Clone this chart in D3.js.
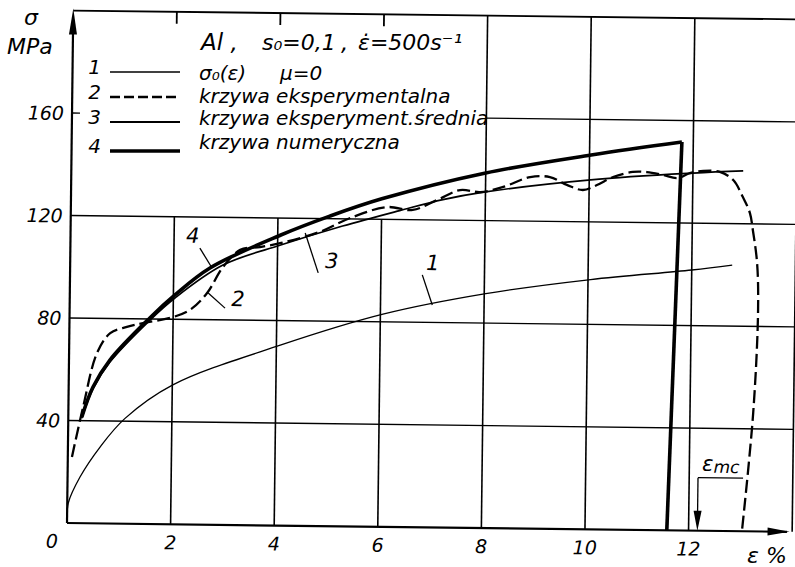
<!DOCTYPE html>
<html>
<head>
<meta charset="utf-8">
<script src="https://cdn.jsdelivr.net/npm/d3@7"></script>
<style>
    body { margin: 0; background: #fff; }
    text { font-family: "DejaVu Sans", sans-serif; font-style: italic; fill: #000; }
</style>
</head>
<body>
<div id="svg-container"></div>
<script>
//==============================
// DATA (eps in %, sigma in MPa)
//==============================
// 1: sigma0(eps), mu = 0
const curve1 = [[0, 0], [0.02, 7.8], [0.24, 18], [0.62, 29.8], [1.09, 41], [2.01, 54.4],
    [4.09, 70.5], [6.05, 83], [8.03, 91.5], [10.05, 97.5], [12.0, 101.7], [12.78, 103.8]];
// 2: krzywa eksperymentalna (dashed)
const curve2 = [[0.08, 25.8], [0.28, 45], [0.54, 66.5], [0.79, 74.3], [1.11, 76.8], [1.42, 78.4],
    [1.94, 80.5], [2.32, 83.7], [2.65, 90.4], [2.95, 100.6], [3.28, 107.4], [3.66, 108.6],
    [4.07, 110.3], [4.81, 114.8], [5.4, 120.4], [6.1, 124.8], [6.6, 123.8], [7.07, 127.8],
    [7.51, 131.8], [7.9, 131.1], [8.34, 133.2], [8.86, 137.2], [9.24, 137.3], [9.57, 134.3],
    [9.88, 132.4], [10.15, 134.4], [10.46, 137.6], [10.84, 139.7], [11.11, 139.7], [11.42, 138.7],
    [11.7, 137.5], [11.94, 139.5], [12.2, 140.4], [12.52, 140.1], [12.78, 137], [12.97, 130.4],
    [13.11, 124.2], [13.17, 117.6], [13.26, 104.7], [13.29, 86.4], [13.22, 46.2], [13.03, 0]];
// 3: krzywa eksperyment. srednia
const curve3 = [[0.26, 41], [0.47, 52.5], [0.79, 63], [1.55, 79.5], [2.03, 88.3], [2.95, 101.4],
    [4.06, 109.5], [5.25, 117.2], [6.35, 123.5], [7.18, 128], [8.0, 131.2], [10.03, 136.4],
    [12.0, 139.5], [12.97, 140.6]];
// 4: krzywa numeryczna (rise, then drop)
const curve4 = [[0.26, 41.4], [0.47, 53.2], [0.79, 63.8], [1.55, 80.4], [2.03, 89.5], [2.70, 100.2],
    [4.06, 113.4], [5.0, 121], [6.0, 128], [8.0, 138.6], [10.03, 146.1], [11.78, 151.6]];
const curve4Drop = [[11.78, 151.6], [11.58, 0]];

// ticks and grid
const xTicks = [2, 4, 6, 8, 10, 12];
const yTicks = [40, 80, 120, 160];
const xGridShort = [2, 4, 6];    // stop under the legend at 120
const xGridFull = [8, 10, 12];
const yGridFull = [40, 80, 120];

// curve labels: [text, label pos, leader from, leader to]
const curveLabels = [
    ["1", [7.0, 103.6], [6.8, 98.5], [7.0, 86.8]],
    ["2", [3.25, 88.6], [2.65, 90.8], [3.0, 84.6]],
    ["3", [5.05, 103.9], [4.53, 114.3], [4.79, 98.8]],
    ["4", [2.36, 113], [2.5, 107.9], [2.74, 100.2]]
];
// eps_mc marker
const epsMc = 12.17, epsMcEnd = 13.04, epsMcLevel = 20.7;

//==============================
// DRAW
//==============================
const width = 795, height = 567;
const svg = d3.select("#svg-container").append("svg")
    .attr("width", width)
    .attr("height", height);

const x = d3.scaleLinear().domain([0, 14]).range([67, 67 + 14 * 51.8]);
const y = d3.scaleLinear().domain([0, 200]).range([523, 523 - 200 * 2.5625]);

// the scan is slightly turned, so is the plot frame
const g = svg.append("g").attr("transform", `rotate(0.7, ${x(0)}, ${y(0)})`);

const seg = (x1, y1, x2, y2, w) => g.append("line")
    .attr("x1", x1).attr("y1", y1).attr("x2", x2).attr("y2", y2)
    .attr("stroke", "#000").attr("stroke-width", w);

// grid
xGridShort.forEach(v => {
    seg(x(v), y(0), x(v), y(120), 1.6);
    seg(x(v), y(200), x(v), y(200) + 12, 1.8);
});
xGridFull.forEach(v => seg(x(v), y(0), x(v), y(200), 1.6));
yGridFull.forEach(v => seg(x(0), y(v), x(14), y(v), 1.4));
seg(x(8), y(160), x(14), y(160), 1.4);
seg(x(0), y(160), x(0) + 8, y(160), 1.4);

// frame
seg(x(0), y(200), x(14), y(200), 1.8);
seg(x(14), y(0), x(14), y(200), 1.6);
seg(x(0), y(0), x(13.9), y(0), 2.2);
seg(x(0), y(0), x(0), y(196), 2.2);

// arrow heads
const tri = (pts) => g.append("path").attr("d", "M" + pts.join("L") + "Z").attr("fill", "#000");
tri([[x(0), y(200) - 2], [x(0) - 4, y(200) + 24], [x(0) + 4, y(200) + 24]]);
tri([[x(13.95), y(0)], [x(13.95) - 22, y(0) - 4], [x(13.95) - 22, y(0) + 4]]);

// tick labels
g.selectAll(".ytick").data(yTicks).join("text")
    .attr("x", x(0) - 8).attr("y", d => y(d) + 7)
    .attr("text-anchor", "end").style("font-size", "19px")
    .text(d => d);
g.selectAll(".xtick").data(xTicks).join("text")
    .attr("x", d => x(d)).attr("y", y(0) + 25)
    .attr("text-anchor", "middle").style("font-size", "19px")
    .text(d => d);
g.append("text").attr("x", x(0) - 15).attr("y", y(0) + 25)
    .attr("text-anchor", "middle").style("font-size", "19px").text("0");

// curves
const smooth = d3.line().x(d => x(d[0])).y(d => y(d[1])).curve(d3.curveCatmullRom.alpha(0.5));
const straight = d3.line().x(d => x(d[0])).y(d => y(d[1]));
const drawCurve = (data, gen, w, dash) => g.append("path")
    .attr("d", gen(data))
    .attr("fill", "none").attr("stroke", "#000")
    .attr("stroke-width", w)
    .attr("stroke-dasharray", dash || null)
    .attr("stroke-linejoin", "round");

drawCurve(curve1, smooth, 1.3);
drawCurve(curve3, smooth, 1.7);
drawCurve(curve2, smooth, 2.3, "13,5");
drawCurve(curve4, smooth, 3.6);
drawCurve(curve4Drop, straight, 3.6);

// curve numbers with leaders
curveLabels.forEach(c => {
    g.append("text").attr("x", x(c[1][0])).attr("y", y(c[1][1]) + 8)
        .attr("text-anchor", "middle").style("font-size", "21px").text(c[0]);
    seg(x(c[2][0]), y(c[2][1]), x(c[3][0]), y(c[3][1]), 1.3);
});

// eps_mc bracket and arrow
seg(x(epsMc), y(epsMcLevel), x(epsMcEnd), y(epsMcLevel), 1.3);
seg(x(epsMc), y(epsMcLevel), x(epsMc), y(0) - 16, 1.3);
tri([[x(epsMc), y(0)], [x(epsMc) - 4, y(0) - 20], [x(epsMc) + 4, y(0) - 20]]);
const mc = g.append("text").attr("x", x(epsMc) + 4).attr("y", y(epsMcLevel) - 7).style("font-size", "21px");
mc.append("tspan").text("ε");
mc.append("tspan").attr("dy", 2).style("font-size", "17px").text("mc");

//==============================
// LEGEND and axis names (page coords)
//==============================
const label = (tx, ty, size, str, anchor) => svg.append("text")
    .attr("x", tx).attr("y", ty)
    .attr("text-anchor", anchor || "start")
    .style("font-size", size + "px").text(str);

label(24, 25, 22, "σ");
label(7, 54, 22, "MPa");
label(747, 563, 22, "ε %");

// title: Al, s0=0,1 , eps-dot=500s^-1
label(201, 50, 23, "Al ,");
label(262, 50, 22, "s₀=0,1");
label(341, 50, 23, ",");
label(358, 50, 22, "ε\u0307=500s⁻¹");

// sigma0(eps)  mu=0
label(199, 80, 20, "σ₀(ε)");
label(280, 80, 20, "μ=0");

const legendRows = [
    { num: "1", text: null, ly: 72, ty: 80, w: 1.3, dash: null },
    { num: "2", text: "krzywa eksperymentalna", ly: 97, ty: 103, w: 2.3, dash: "10,4" },
    { num: "3", text: "krzywa eksperyment.średnia", ly: 122, ty: 125, w: 1.9, dash: null },
    { num: "4", text: "krzywa numeryczna", ly: 151, ty: 149, w: 3.6, dash: null }
];
legendRows.forEach(r => {
    label(101, r.ly + 2, 20, r.num, "end");
    svg.append("line").attr("x1", 110).attr("x2", 180).attr("y1", r.ly).attr("y2", r.ly)
        .attr("stroke", "#000").attr("stroke-width", r.w)
        .attr("stroke-dasharray", r.dash);
    if (r.text) label(199, r.ty, 20, r.text);
});
</script>
</body>
</html>
